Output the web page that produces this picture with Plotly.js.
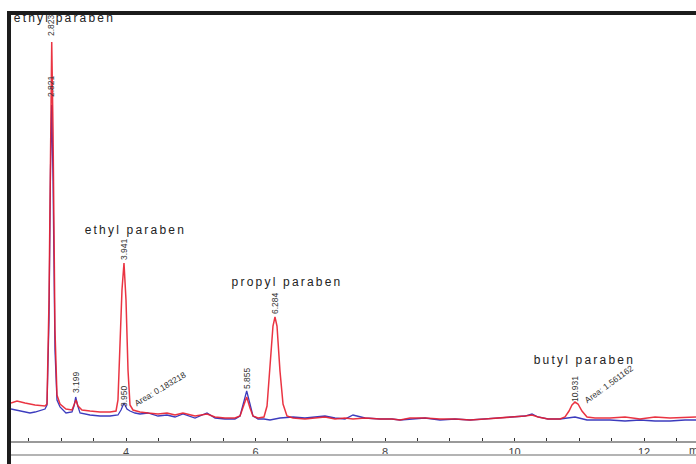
<!DOCTYPE html>
<html>
<head>
<meta charset="utf-8">
<script src="https://cdn.plot.ly/plotly-3.0.1.min.js"></script>
<style>
  html, body { margin: 0; padding: 0; background: #fff; }
  #wrap { position: relative; width: 696px; height: 464px; overflow: hidden; }
  #chart { width: 696px; height: 464px; }
  .frame { position: absolute; background: #1c1c1c; }
  .annotation[data-index="0"] .annotation-text,
  .annotation[data-index="1"] .annotation-text,
  .annotation[data-index="2"] .annotation-text,
  .annotation[data-index="3"] .annotation-text { letter-spacing: 2.2px; }
</style>
</head>
<body>
<div id="wrap">
  <div id="chart"></div>
  <div style="position:absolute;left:0;top:0;width:7px;height:464px;background:#fff;"></div>
  <div style="position:absolute;left:0;top:0;width:696px;height:11px;background:#fff;"></div>
  <div class="frame" style="left:7px;top:11px;width:689px;height:4px;"></div>
  <div class="frame" style="left:7px;top:11px;width:4px;height:453px;"></div>
  <div style="position:absolute;left:11px;top:454px;width:685px;height:2px;background:#b4b4b4;"></div>
</div>
<script>
// retention time (min) and detector response, red run (standard)
const redTime = [2.224, 2.317, 2.440, 2.595, 2.749, 2.780, 2.811, 2.834, 2.853, 2.873, 2.903, 2.934, 2.981,
  3.073, 3.166, 3.197, 3.228, 3.259, 3.320, 3.444, 3.598, 3.753, 3.846, 3.876, 3.907, 3.938, 3.969, 4.000,
  4.031, 4.062, 4.108, 4.216, 4.340, 4.494, 4.633, 4.757, 4.880, 5.066, 5.251, 5.375, 5.529, 5.683, 5.761,
  5.807, 5.864, 5.915, 5.961, 6.039, 6.131, 6.178, 6.224, 6.270, 6.301, 6.332, 6.378, 6.425, 6.486, 6.579,
  6.764, 6.919, 7.073, 7.228, 7.382, 7.506, 7.691, 7.923, 8.108, 8.232, 8.386, 8.618, 8.849, 9.081, 9.313,
  9.544, 9.776, 10.008, 10.162, 10.270, 10.363, 10.517, 10.703, 10.780, 10.842, 10.888, 10.934, 10.981,
  11.042, 11.120, 11.243, 11.475, 11.707, 11.938, 12.170, 12.402, 12.633, 12.803];
const redSignal = [13, 15, 13, 11, 10, 12, 116, 296, 374, 286, 86, 21, 12,
  7, 6, 11, 16, 10, 6, 5, 4, 4, 5, 16, 76, 126, 153, 116,
  46, 11, 6, 4, 3, 2, 3, 1, 3, 0, 2, -1, -2, -2, 0,
  8, 19, 8, 0, -2, -1, 10, 50, 90, 99, 90, 45, 12, 0, -2,
  -3, -2, -1, -3, -2, -3, -2, -3, -3, -4, -2, -2, -3, -3, -4,
  -3, -2, -1, 0, 1, -1, -3, -3, -1, 5, 11, 14, 12,
  5, -1, -2, -2, -1, -3, -1, -2, -1, -1];

// blue run (sample)
const blueTime = [2.224, 2.363, 2.517, 2.595, 2.703, 2.749, 2.780, 2.811, 2.834, 2.853, 2.873, 2.903, 2.934,
  2.981, 3.073, 3.166, 3.197, 3.223, 3.251, 3.290, 3.444, 3.598, 3.753, 3.876, 3.923, 3.969, 4.015, 4.062,
  4.139, 4.216, 4.340, 4.494, 4.633, 4.757, 4.880, 5.066, 5.251, 5.375, 5.529, 5.683, 5.761, 5.807, 5.864,
  5.915, 5.961, 6.039, 6.131, 6.224, 6.378, 6.579, 6.764, 6.919, 7.073, 7.228, 7.382, 7.506, 7.691, 7.923,
  8.108, 8.232, 8.386, 8.618, 8.849, 9.081, 9.313, 9.544, 9.776, 10.008, 10.162, 10.270, 10.363, 10.517,
  10.703, 10.934, 11.120, 11.243, 11.475, 11.707, 11.938, 12.170, 12.402, 12.633, 12.803];
const blueSignal = [7, 5, 3, 4, 6, 7, 11, 96, 246, 311, 236, 66, 16,
  9, 3, 4, 10, 19, 11, 3, 1, 0, 0, 1, 6, 13, 7, 5,
  3, 2, 3, 0, 1, -1, 2, -2, 3, -2, -3, -3, 0, 12, 25,
  12, 0, -3, -3, -4, -2, -1, -2, -1, 0, -2, -3, 1, -2, -3,
  -3, -4, -3, -2, -4, -3, -4, -3, -2, -1, 0, 2, -1, -3,
  -3, -1, -4, -4, -4, -5, -4, -5, -5, -4, -4];

// compound names and their label anchors (time, response)
const compoundNames = ["methyl paraben", "ethyl paraben", "propyl paraben", "butyl paraben"];
const compoundTime = [2.958, 4.147, 6.487, 11.081];
const compoundResp = [398, 186, 134, 56];

// retention time labels (rotated)
const rtLabels = ["2.823", "2.821", "3.199", "3.941", "3.950", "5.855", "6.284", "10.931"];
const rtTime = [2.842, 2.842, 3.228, 3.969, 3.969, 5.869, 6.301, 10.934];
const rtResp = [391, 330, 34, 167, 20, 38, 113, 27];

// area labels
const areaLabels = ["Area: 0.183218", "Area: 1.561162"];
const areaTime = [4.525, 11.459];
const areaResp = [27, 32];
const areaAngle = [-31, -36];

const xTicks = [4, 6, 8, 10, 12];

const traces = [
  { x: blueTime, y: blueSignal, type: 'scatter', mode: 'lines',
    line: { color: 'rgb(60,60,190)', width: 1.3 }, hoverinfo: 'skip' },
  { x: redTime, y: redSignal, type: 'scatter', mode: 'lines',
    line: { color: 'rgba(232,30,45,0.9)', width: 1.5 }, hoverinfo: 'skip' }
];

const annotations = [];
compoundNames.forEach((n, i) => annotations.push({
  x: compoundTime[i], y: compoundResp[i], xref: 'x', yref: 'y', text: n, showarrow: false,
  xanchor: 'center', yanchor: 'middle',
  font: { family: 'Liberation Sans, Arial, sans-serif', size: 12, color: '#222' }
}));
rtLabels.forEach((n, i) => annotations.push({
  x: rtTime[i], y: rtResp[i], xref: 'x', yref: 'y', text: n, showarrow: false, textangle: -90,
  xanchor: 'center', yanchor: 'middle',
  font: { family: 'Liberation Sans, Arial, sans-serif', size: 8.5, color: '#333' }
}));
areaLabels.forEach((n, i) => annotations.push({
  x: areaTime[i], y: areaResp[i], xref: 'x', yref: 'y', text: n, showarrow: false, textangle: areaAngle[i],
  xanchor: 'center', yanchor: 'middle',
  font: { family: 'Liberation Sans, Arial, sans-serif', size: 8.5, color: '#333' }
}));
annotations.push({
  x: 1, y: -0.021, xref: 'paper', yref: 'paper', text: 'min', showarrow: false,
  xanchor: 'left', yanchor: 'middle', xshift: -9,
  font: { family: 'Liberation Sans, Arial, sans-serif', size: 11, color: '#444' }
});

const layout = {
  width: 696, height: 464,
  margin: { l: 11, r: 0, t: 16, b: 23 },
  paper_bgcolor: '#fff', plot_bgcolor: '#fff',
  showlegend: false,
  xaxis: {
    range: [2.224, 12.803], tickvals: xTicks, ticktext: xTicks.map(String),
    showgrid: false, zeroline: false, showline: true, linecolor: '#9a9a9a', linewidth: 2,
    ticks: 'inside', ticklen: 3, tickcolor: '#333', tickwidth: 1,
    minor: { dtick: 0.5, tick0: 0, ticks: 'inside', ticklen: 3, tickcolor: '#333', tickwidth: 1, showgrid: false },
    tickfont: { family: 'Liberation Sans, Arial, sans-serif', size: 11, color: '#444' },
    fixedrange: true
  },
  yaxis: {
    range: [-25, 400], visible: false, showgrid: false, zeroline: false, fixedrange: true
  },
  annotations: annotations
};

Plotly.newPlot('chart', traces, layout, { displayModeBar: false, staticPlot: true });
</script>
</body>
</html>
